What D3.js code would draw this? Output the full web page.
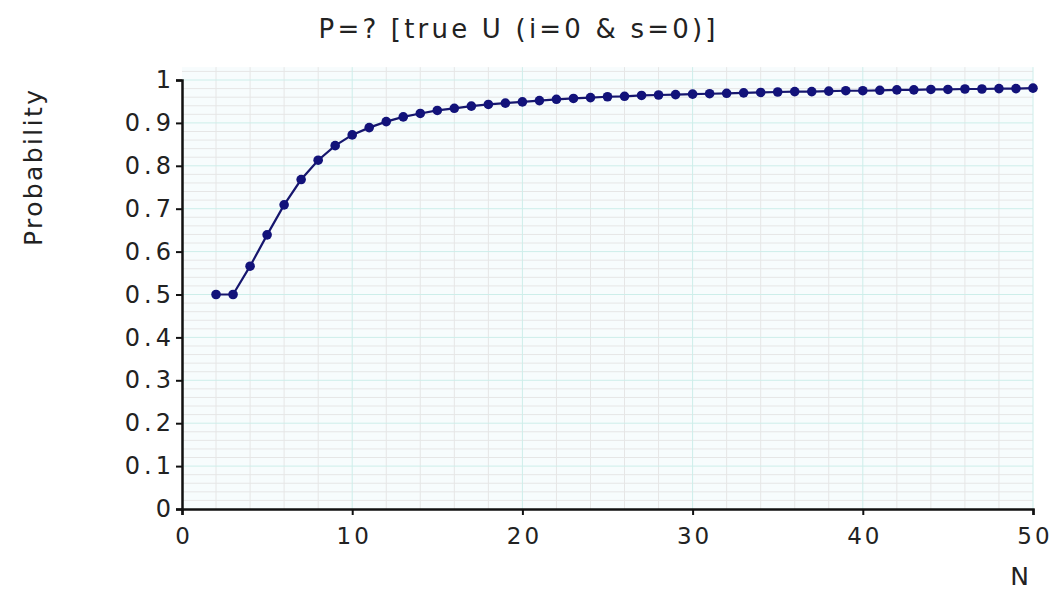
<!DOCTYPE html>
<html>
<head>
<meta charset="utf-8">
<script src="https://cdn.jsdelivr.net/npm/d3@7"></script>
<style>
  body { margin: 0; background: #fff; }
  svg { display: block; }
  text { font-family: "DejaVu Sans", sans-serif; fill: #222; }
</style>
</head>
<body>
<svg id="chart" width="1058" height="590"></svg>
<script>
// N values and the probabilities
const nValues = [2, 3, 4, 5, 6, 7, 8, 9, 10, 11, 12, 13, 14, 15, 16, 17, 18, 19, 20,
  21, 22, 23, 24, 25, 26, 27, 28, 29, 30, 31, 32, 33, 34, 35, 36, 37, 38, 39, 40,
  41, 42, 43, 44, 45, 46, 47, 48, 49, 50];
const probabilities = [0.500, 0.500, 0.566, 0.639, 0.709, 0.768, 0.813, 0.847, 0.872,
  0.889, 0.903, 0.914, 0.922, 0.929, 0.934, 0.939, 0.943, 0.946, 0.949,
  0.952, 0.955, 0.957, 0.959, 0.961, 0.962, 0.964, 0.965, 0.966, 0.967,
  0.968, 0.969, 0.970, 0.971, 0.972, 0.973, 0.973, 0.974, 0.975, 0.975,
  0.976, 0.977, 0.977, 0.978, 0.978, 0.979, 0.979, 0.980, 0.980, 0.981];
const xTicks = [0, 10, 20, 30, 40, 50];
const yTicks = [0, 0.1, 0.2, 0.3, 0.4, 0.5, 0.6, 0.7, 0.8, 0.9, 1];
const title = "P=? [true U (i=0 & s=0)]";

const svg = d3.select("#chart");
const margin = { left: 182, right: 25, top: 80, bottom: 81 };
const width = 1058 - margin.left - margin.right;
const height = 590 - margin.top - margin.bottom;

const x = d3.scaleLinear().domain([0, 50]).range([0, width]);
const y = d3.scaleLinear().domain([0, 1]).range([height, 0]);

const g = svg.append("g").attr("transform", `translate(${margin.left},${margin.top})`);

// plot background (runs a little above 1)
g.append("rect")
  .attr("x", 0).attr("y", y(1.03))
  .attr("width", width).attr("height", height - y(1.03))
  .attr("fill", "#f7fcfd");

// minor grid
g.selectAll(".minor-x")
  .data(d3.range(0, 51, 2).filter(d => d % 10 !== 0))
  .enter().append("line")
  .attr("x1", d => x(d)).attr("x2", d => x(d))
  .attr("y1", y(1.03)).attr("y2", height)
  .attr("stroke", "#e6e6e6").attr("stroke-width", 1);

g.selectAll(".minor-y")
  .data(d3.range(0, 1.031, 0.02).filter((d, i) => i % 5 !== 0))
  .enter().append("line")
  .attr("x1", 0).attr("x2", width)
  .attr("y1", d => y(d)).attr("y2", d => y(d))
  .attr("stroke", "#e6e6e6").attr("stroke-width", 1);

// major grid
g.selectAll(".major-x")
  .data(xTicks.slice(1))
  .enter().append("line")
  .attr("x1", d => x(d)).attr("x2", d => x(d))
  .attr("y1", y(1.03)).attr("y2", height)
  .attr("stroke", "#cdeeea").attr("stroke-width", 1);

g.selectAll(".major-y")
  .data(yTicks.slice(1))
  .enter().append("line")
  .attr("x1", 0).attr("x2", width)
  .attr("y1", d => y(d)).attr("y2", d => y(d))
  .attr("stroke", "#cdeeea").attr("stroke-width", 1);

// axes
const xAxis = d3.axisBottom(x).tickValues(xTicks).tickSize(6).tickPadding(13).tickFormat(d3.format("d"));
const yAxis = d3.axisLeft(y).tickValues(yTicks).tickSize(6).tickPadding(1)
  .tickFormat(d => d === 0 || d === 1 ? d : d3.format(".1f")(d));

const gx = g.append("g").attr("transform", `translate(0,${height})`).call(xAxis);
const gy = g.append("g").call(yAxis);
[gx, gy].forEach(a => {
  a.select(".domain").attr("stroke", "#111").attr("stroke-width", 2.5);
  a.selectAll(".tick line").attr("stroke", "#111").attr("stroke-width", 2);
  a.selectAll(".tick text").attr("font-size", 23).attr("fill", "#222")
    .attr("letter-spacing", "3px")
    .attr("font-family", "DejaVu Sans, sans-serif");
});
gx.selectAll(".tick text").attr("dx", "1.5px");
gy.selectAll(".tick text").attr("font-size", 24).attr("letter-spacing", "4px");

// data line and points
const line = d3.line().x((d, i) => x(nValues[i])).y(d => y(d));
g.append("path")
  .datum(probabilities)
  .attr("d", line)
  .attr("fill", "none")
  .attr("stroke", "#16166e")
  .attr("stroke-width", 2.2);

g.selectAll(".pt")
  .data(probabilities)
  .enter().append("circle")
  .attr("cx", (d, i) => x(nValues[i]))
  .attr("cy", d => y(d))
  .attr("r", 4.8)
  .attr("fill", "#12127a");

// titles
svg.append("text")
  .attr("x", 517).attr("y", 38)
  .attr("text-anchor", "middle")
  .attr("font-size", 26)
  .attr("textLength", 397).attr("lengthAdjust", "spacing")
  .text(title);

svg.append("text")
  .attr("transform", "translate(42,168) rotate(-90)")
  .attr("text-anchor", "middle")
  .attr("font-size", 25)
  .attr("textLength", 156).attr("lengthAdjust", "spacing")
  .text("Probability");

svg.append("text")
  .attr("x", 1029).attr("y", 585)
  .attr("text-anchor", "end")
  .attr("font-size", 25)
  .text("N");
</script>
</body>
</html>
